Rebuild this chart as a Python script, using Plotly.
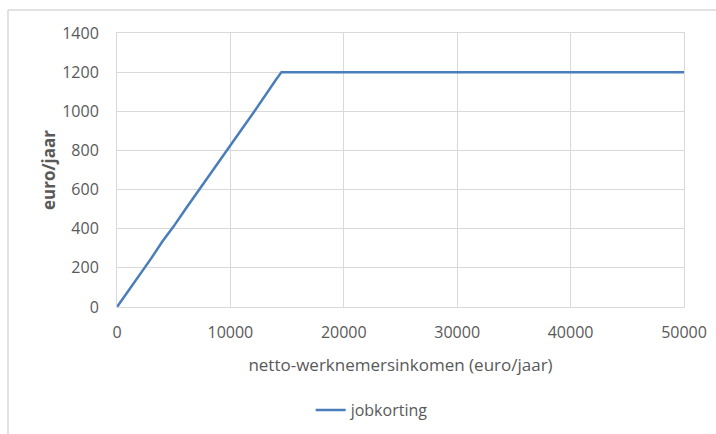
import plotly.graph_objects as go

# netto-werknemersinkomen (euro/jaar) and jobkorting (euro/jaar)
inkomen = [0, 1000, 2000, 3000, 4000, 5000, 6000, 7000, 8000, 9000,
           10000, 11000, 12000, 13000, 14000, 14500, 20000, 30000, 40000, 50000]
jobkorting = [0, 82, 165, 247, 335, 412, 497, 578, 665, 745,
              827, 908, 990, 1077, 1160, 1200, 1200, 1200, 1200, 1200]

x_ticks = [0, 10000, 20000, 30000, 40000, 50000]
y_ticks = [0, 200, 400, 600, 800, 1000, 1200, 1400]

FONT = "'Open Sans', 'Segoe UI', sans-serif"
GRID = "#d9d9d9"
TXT = "#595959"

fig = go.Figure()
fig.add_trace(go.Scatter(
    x=inkomen, y=jobkorting, mode="lines", name="jobkorting",
    line=dict(color="#4A7EBB", width=2.5),
))

fig.update_layout(
    width=716, height=434,
    margin=dict(l=117, r=32, t=33, b=127, autoexpand=False),
    paper_bgcolor="white", plot_bgcolor="white",
    font=dict(family=FONT, size=15, color=TXT),
    showlegend=True,
    legend=dict(orientation="h", x=0.45, xanchor="center", y=-0.376, yanchor="middle",
                font=dict(size=16, color=TXT)),
    xaxis=dict(
        range=[0, 50000], tickvals=x_ticks, ticktext=[str(v) for v in x_ticks],
        showgrid=True, gridcolor=GRID, gridwidth=1,
        showline=True, linecolor=GRID, linewidth=1, mirror=True,
        zeroline=False, ticks="", ticklabelstandoff=11, automargin=False,
        tickfont=dict(size=16, color=TXT),
        title=dict(text="netto-werknemersinkomen (euro/jaar)", standoff=16,
                   font=dict(size=17, color=TXT)),
    ),
    yaxis=dict(
        range=[0, 1400], tickvals=y_ticks, ticktext=[str(v) for v in y_ticks],
        showgrid=True, gridcolor=GRID, gridwidth=1,
        showline=True, linecolor=GRID, linewidth=1, mirror=True,
        zeroline=False, ticks="", ticklabelstandoff=14, automargin=False,
        tickfont=dict(size=16, color=TXT),
        title=dict(text="<b>euro/jaar</b>", standoff=2,
                   font=dict(size=17, color=TXT)),
    ),
)

# outer chart frame (top and left edges)
fig.add_shape(type="line", xref="paper", yref="paper",
              x0=(8 - 117) / 567, x1=1.2, y0=(307 - 10) / 274, y1=(307 - 10) / 274,
              line=dict(color=GRID, width=1.5))
fig.add_shape(type="line", xref="paper", yref="paper",
              x0=(8 - 117) / 567, x1=(8 - 117) / 567, y0=(307 - 10) / 274, y1=-0.6,
              line=dict(color=GRID, width=1.5))

fig.write_html("out.html")
